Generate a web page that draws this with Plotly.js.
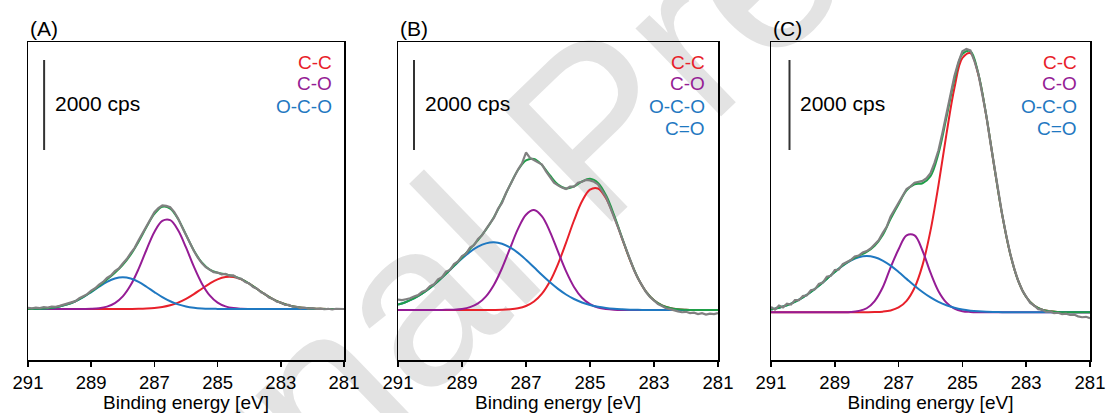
<!DOCTYPE html>
<html><head><meta charset="utf-8">
<script src="https://cdn.plot.ly/plotly-3.0.1.min.js"></script>
<style>html,body{margin:0;padding:0;background:#fff}#chart{width:1109px;height:413px}</style>
</head><body><div id="chart"></div>
<script>
// ---- data (intensities in cps above baseline) ----
const energy = [291,290.75,290.5,290.25,290,289.75,289.5,289.25,289,288.75,288.5,288.25,288,287.75,287.5,287.25,287,286.75,286.5,286.25,286,285.75,285.5,285.25,285,284.75,284.5,284.25,284,283.75,283.5,283.25,283,282.75,282.5,282.25,282,281.75,281.5,281.25,281];
const energyRaw = [291,290.875,290.75,290.625,290.5,290.375,290.25,290.125,290,289.875,289.75,289.625,289.5,289.375,289.25,289.125,289,288.875,288.75,288.625,288.5,288.375,288.25,288.125,288,287.875,287.75,287.625,287.5,287.375,287.25,287.125,287,286.875,286.75,286.625,286.5,286.375,286.25,286.125,286,285.875,285.75,285.625,285.5,285.375,285.25,285.125,285,284.875,284.75,284.625,284.5,284.375,284.25,284.125,284,283.875,283.75,283.625,283.5,283.375,283.25,283.125,283,282.875,282.75,282.625,282.5,282.375,282.25,282.125,282,281.875,281.75,281.625,281.5,281.375,281.25,281.125,281];
const tickValues = [291,289,287,285,283,281];
const tickLabels = ['291','289','287','285','283','281'];
const panelLabels = ['(A)','(B)','(C)'];
const scaleBarValue = 2000;
const scaleBarLabel = '2000 cps';
const axisTitle = 'Binding energy [eV]';
const watermark = 'Journal Pre-proof';

const A_CC  = [0,0,0,0,0,0,0,0,0,0,0,0,1,2,4,10,22,45,83,142,225,331,450,566,660,712,711,657,562,445,327,222,139,81,44,22,10,4,2,1,0];
const A_CO  = [0,0,0,0,0,0,0,2,6,19,53,129,279,531,891,1317,1713,1960,1976,1752,1368,940,569,303,142,59,21,7,2,0,0,0,0,0,0,0,0,0,0,0,0];
const A_OCO = [3,6,14,30,58,104,173,265,377,495,602,677,704,677,602,495,377,265,173,104,58,30,14,6,3,1,0,0,0,0,0,0,0,0,0,0,0,0,0,0,0];
const A_fit = [3,6,14,30,58,104,173,267,383,514,655,806,984,1210,1497,1822,2112,2270,2232,1998,1651,1301,1033,875,805,772,732,664,564,445,327,222,139,81,44,22,10,4,2,1,0];
const A_raw = [25,15,30,20,40,30,55,50,70,100,120,160,175,240,290,330,410,460,540,600,690,745,840,900,1010,1110,1240,1360,1530,1680,1850,1990,2150,2240,2300,2290,2260,2160,2010,1820,1640,1450,1290,1140,1020,930,880,820,810,770,780,740,745,690,670,600,570,490,450,370,335,255,225,160,145,95,90,50,50,20,30,10,20,0,10,-5,5,-10,5,-5,0];

const B_CC  = [0,0,0,0,0,0,0,0,0,0,0,1,2,5,15,38,89,188,362,637,1021,1493,1989,2416,2675,2700,2484,2083,1593,1110,705,408,216,103,46,18,7,2,1,0,0];
const B_CO  = [0,0,0,0,0,1,3,8,24,63,146,303,562,928,1369,1802,2118,2221,2080,1738,1296,863,513,272,129,54,21,7,2,1,0,0,0,0,0,0,0,0,0,0,0];
const B_OCO = [119,179,259,363,490,640,804,976,1143,1292,1408,1481,1504,1473,1392,1270,1117,949,777,615,469,345,245,168,111,71,44,26,15,8,4,2,1,0,0,0,0,0,0,0,0];
const B_fit = [119,179,259,363,490,641,807,984,1167,1355,1554,1785,2068,2406,2776,3110,3324,3358,3219,2990,2786,2701,2747,2856,2915,2825,2549,2116,1610,1119,709,410,217,103,46,18,7,2,1,0,0];
const B_raw = [230,220,240,260,300,330,400,440,530,570,680,730,850,890,1020,1080,1200,1250,1390,1440,1580,1660,1800,1940,2050,2250,2380,2600,2770,2960,3120,3260,3500,3380,3330,3290,3230,3080,2960,2830,2770,2720,2690,2740,2740,2830,2850,2890,2880,2850,2790,2640,2510,2290,2080,1840,1600,1350,1110,890,700,540,400,290,200,130,90,40,20,-10,-30,-50,-40,-70,-60,-90,-70,-100,-80,-90,-70];

const C_CC  = [0,0,0,0,0,0,0,0,0,0,0,0,1,4,14,41,107,255,545,1049,1816,2828,3960,4986,5651,5760,5280,4354,3229,2156,1294,698,339,148,58,21,7,2,1,0,0];
const C_CO  = [0,0,0,0,0,0,0,0,0,2,8,30,90,250,550,1000,1400,1710,1710,1368,880,470,215,80,25,8,2,0,0,0,0,0,0,0,0,0,0,0,0,0,0];
const C_OCO = [62,101,156,231,330,451,591,743,896,1037,1151,1225,1251,1225,1151,1037,896,743,591,451,330,231,156,101,62,37,21,11,6,3,1,0,0,0,0,0,0,0,0,0,0];
const C_fit = [62,101,156,231,330,451,591,743,896,1039,1159,1255,1342,1479,1715,2078,2403,2708,2846,2868,3026,3529,4331,5167,5738,5805,5303,4365,3235,2159,1295,698,339,148,58,21,7,2,1,0,0];
const C_raw = [120,60,150,110,190,170,270,270,360,380,490,510,630,660,790,810,940,950,1070,1120,1160,1240,1260,1330,1360,1420,1510,1600,1760,1900,2130,2280,2460,2580,2740,2800,2880,2900,2920,2980,3090,3320,3600,3990,4420,4850,5250,5560,5800,5850,5820,5590,5300,4840,4370,3790,3240,2680,2160,1710,1300,970,700,490,340,210,150,70,60,10,20,-20,-10,-40,-30,-60,-50,-90,-110,-100,-130];

const legendA = ['C-C','C-O','O-C-O'];
const legendBC = ['C-C','C-O','O-C-O','C=O'];

// ---- styling ----
const W = 1109, H = 413;
const FONT = 'Liberation Sans, Arial, sans-serif';
const COL = {cc:'#e8202a', co:'#951c95', oco:'#1f78c1', fit:'#1f9e48', raw:'#808080'};
const legendColors = [COL.cc, COL.co, COL.oco, COL.oco];

const panels = [
  {cc:A_CC, co:A_CO, oco:A_OCO, fit:A_fit, raw:A_raw, legend:legendA,  px:[28,344],  yr:[-1133,5933], barX:290.49, barBottom:3533, textX:53,  legX:333.5},
  {cc:B_CC, co:B_CO, oco:B_OCO, fit:B_fit, raw:B_raw, legend:legendBC, px:[398,718], yr:[-1111,5956], barX:290.5,  barBottom:3556, textX:423, legX:707},
  {cc:C_CC, co:C_CO, oco:C_OCO, fit:C_fit, raw:C_raw, legend:legendBC, px:[771,1090], yr:[-1060,6007], barX:290.42, barBottom:3607, textX:798, legX:1078.5}
];
const yDom = [(H-360)/H, (H-42)/H];

const traces = [], shapes = [], annotations = [];
const layout = {
  width: W, height: H, margin:{l:0,r:0,t:0,b:0},
  paper_bgcolor:'#ffffff', plot_bgcolor:'rgba(0,0,0,0)',
  showlegend:false, font:{family:FONT, color:'#000'}
};

panels.forEach((p, i) => {
  const n = i === 0 ? '' : String(i+1);
  const xa = 'x'+n, ya = 'y'+n;
  const line = (c, w) => ({color:c, width:w, shape:'spline', smoothing:1});
  traces.push({x:energy, y:p.cc,  xaxis:xa, yaxis:ya, mode:'lines', line:line(COL.cc,2),  hoverinfo:'skip'});
  traces.push({x:energy, y:p.co,  xaxis:xa, yaxis:ya, mode:'lines', line:line(COL.co,2),  hoverinfo:'skip'});
  traces.push({x:energy, y:p.oco, xaxis:xa, yaxis:ya, mode:'lines', line:line(COL.oco,2), hoverinfo:'skip'});
  traces.push({x:energy, y:p.fit, xaxis:xa, yaxis:ya, mode:'lines', line:line(COL.fit,2), hoverinfo:'skip'});
  traces.push({x:energyRaw, y:p.raw, xaxis:xa, yaxis:ya, mode:'lines', line:{color:COL.raw, width:2.2, shape:'linear'}, hoverinfo:'skip'});

  layout['xaxis'+n] = {
    domain:[p.px[0]/W, p.px[1]/W], anchor:ya, range:[291,281],
    tickmode:'array', tickvals:tickValues, ticktext:tickLabels,
    ticks:'outside', ticklen:5, tickwidth:1.5, tickcolor:'#000',
    showline:true, linecolor:'#000', linewidth:1.5, mirror:true,
    showgrid:false, zeroline:false, automargin:false,
    tickfont:{family:FONT, size:18.5, color:'#000'},
    title:{text:axisTitle, font:{family:FONT, size:19, color:'#000'}}
  };
  layout['yaxis'+n] = {
    domain:yDom, anchor:xa, range:p.yr,
    showline:true, linecolor:'#000', linewidth:1.5, mirror:true,
    showticklabels:false, ticks:'', showgrid:false, zeroline:false, automargin:false
  };
  shapes.push({type:'line', xref:xa, yref:ya, x0:p.barX, x1:p.barX, y0:p.barBottom, y1:p.barBottom+scaleBarValue,
               line:{color:'#333', width:2}});
  annotations.push({xref:'paper', yref:'paper', x:p.px[0]/W, y:1-28.5/H, xanchor:'left', yanchor:'middle',
                    text:panelLabels[i], showarrow:false, font:{family:FONT, size:21, color:'#000'}});
  annotations.push({xref:'paper', yref:'paper', x:p.textX/W, y:1-104/H, xanchor:'left', yanchor:'middle',
                    text:scaleBarLabel, showarrow:false, font:{family:FONT, size:21, color:'#000'}});
  const legY = [62, 83.5, 106, 128];
  p.legend.forEach((t, k) => {
    annotations.push({xref:'paper', yref:'paper', x:p.legX/W, y:1-legY[k]/H, xanchor:'right', yanchor:'middle',
                      text:t, showarrow:false, font:{family:FONT, size:19, color:legendColors[k]}});
  });
});

// watermark drawn behind the plots (shape label on the lower layer)
shapes.unshift({type:'line', layer:'below', xref:'paper', yref:'paper',
  x0:578/W - 0.001, x1:578/W + 0.001, y0:1-112/H, y1:1-112/H, line:{width:0, color:'rgba(0,0,0,0)'},
  label:{text:watermark, textangle:-44, textposition:'middle', xanchor:'center', yanchor:'middle',
         font:{family:FONT, size:232, color:'#e3e3e3'}}});

layout.shapes = shapes;
layout.annotations = annotations;
Plotly.newPlot('chart', traces, layout, {staticPlot:true, displayModeBar:false});
</script></body></html>
